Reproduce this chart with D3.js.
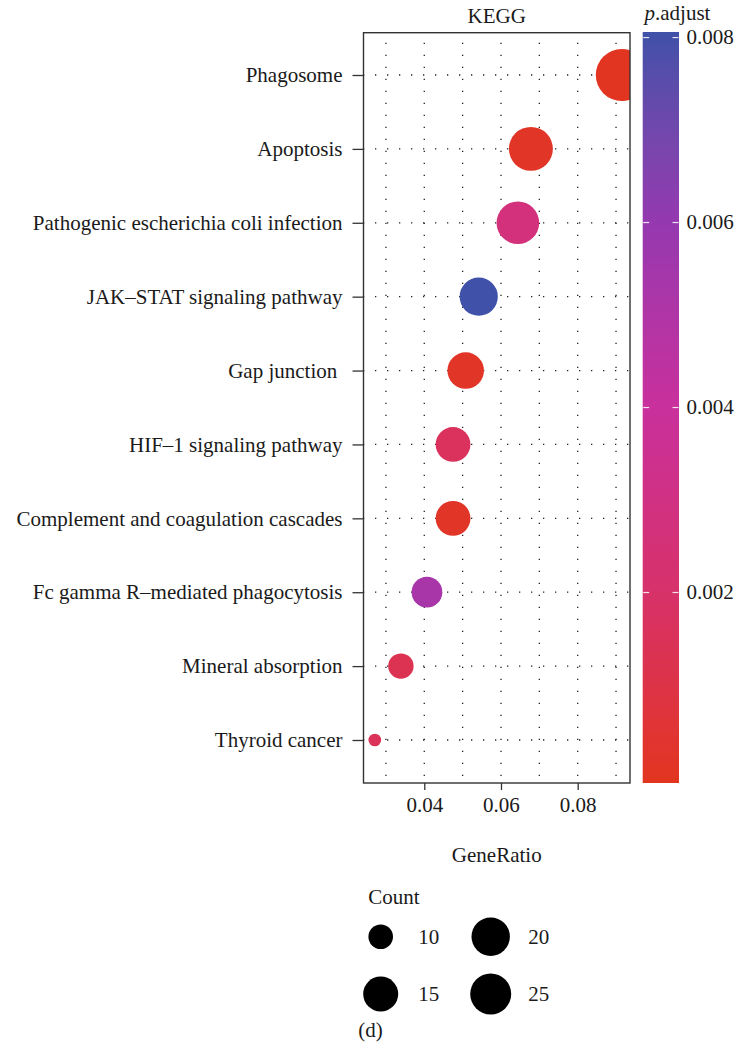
<!DOCTYPE html>
<html>
<head>
<meta charset="utf-8">
<script src="https://cdn.jsdelivr.net/npm/d3@7"></script>
<style>
  html, body { margin: 0; padding: 0; background: #fff; }
  svg { display: block; }
  text { font-family: "Liberation Serif", "DejaVu Serif", serif; fill: #1a1a1a; white-space: pre; }
</style>
</head>
<body>
<svg id="chart" width="735" height="1054"></svg>
<script>
// KEGG enrichment terms, top to bottom
const pathways = [
  "Phagosome",
  "Apoptosis",
  "Pathogenic escherichia coli infection",
  "JAK\u2013STAT signaling pathway",
  "Gap junction ",
  "HIF\u20131 signaling pathway",
  "Complement and coagulation cascades",
  "Fc gamma R\u2013mediated phagocytosis",
  "Mineral absorption",
  "Thyroid cancer"
];
const geneRatio = [0.0915, 0.0678, 0.0644, 0.0542, 0.0508, 0.0475, 0.0475, 0.0407, 0.0339, 0.0271];
const geneCount = [27, 20, 19, 16, 15, 14, 14, 12, 10, 8];
const pAdjust = [0.00005, 0.0002, 0.0027, 0.00806, 0.0002, 0.0016, 0.0002, 0.0053, 0.0013, 0.0015];

const xTicks = [0.04, 0.06, 0.08];
const xMinorTicks = [0.03, 0.05, 0.07, 0.09];
const colorTicks = [0.002, 0.004, 0.006, 0.008];
const legendCounts = [10, 15, 20, 25];

const FS = 21;

const svg = d3.select("#chart");

// panel geometry
const panel = { left: 363.5, right: 630, top: 32.7, bottom: 783 };

const x = d3.scaleLinear().domain([0.02415, 0.09364]).range([panel.left, panel.right]);
const y = d3.scalePoint().domain(pathways).range([75, 740]);

// point size: area scale over the count range
const countExtent = d3.extent(geneCount);
const size = d3.scaleSqrt().domain([0, countExtent[1] - countExtent[0]]).range([6.35, 26]);
const radius = c => size(c - countExtent[0]);

// p.adjust colour ramp (red -> magenta -> blue)
const pMax = d3.max(pAdjust);
const color = d3.scaleLinear()
  .domain([0, 0.002, 0.004, 0.006, pMax])
  .range(["#E2351F", "#D7326A", "#C9309C", "#9538B0", "#3F51A8"])
  .interpolate(d3.interpolateLab);

const data = pathways.map((name, i) => ({
  name, ratio: geneRatio[i], count: geneCount[i], p: pAdjust[i]
}));

// panel background
svg.append("rect")
  .attr("x", panel.left).attr("y", panel.top)
  .attr("width", panel.right - panel.left).attr("height", panel.bottom - panel.top)
  .attr("fill", "#fff");

// dotted grid
const grid = svg.append("g").attr("stroke", "#222").attr("stroke-width", 1.3)
  .attr("stroke-dasharray", "1.3,10.7").attr("stroke-linecap", "butt");
grid.selectAll("line.v").data(xTicks.concat(xMinorTicks)).join("line")
  .attr("class", "v")
  .attr("x1", d => x(d)).attr("x2", d => x(d))
  .attr("y1", panel.top).attr("y2", panel.bottom)
  .attr("stroke-dashoffset", -10);
grid.selectAll("line.h").data(pathways).join("line")
  .attr("class", "h")
  .attr("x1", panel.left).attr("x2", panel.right)
  .attr("y1", d => y(d)).attr("y2", d => y(d))
  .attr("stroke-dashoffset", -11.5);

// clip for points
svg.append("clipPath").attr("id", "panel-clip")
  .append("rect")
  .attr("x", panel.left).attr("y", panel.top)
  .attr("width", panel.right - panel.left).attr("height", panel.bottom - panel.top);

svg.append("g").attr("clip-path", "url(#panel-clip)")
  .selectAll("circle").data(data).join("circle")
  .attr("cx", d => x(d.ratio))
  .attr("cy", d => y(d.name))
  .attr("r", d => radius(d.count))
  .attr("fill", d => color(d.p));

// panel border
svg.append("rect")
  .attr("x", panel.left).attr("y", panel.top)
  .attr("width", panel.right - panel.left).attr("height", panel.bottom - panel.top)
  .attr("fill", "none").attr("stroke", "#333").attr("stroke-width", 1.4);

// y axis
const yAxis = svg.append("g")
  .attr("transform", `translate(${panel.left},0)`)
  .call(d3.axisLeft(y).tickSize(11).tickPadding(10));
yAxis.select(".domain").remove();
yAxis.selectAll(".tick line").attr("stroke", "#333").attr("stroke-width", 1.3);
yAxis.selectAll(".tick text")
  .attr("font-family", "Liberation Serif, serif")
  .attr("font-size", FS).attr("fill", "#1a1a1a").attr("dy", "0.32em");

// x axis
const xAxis = svg.append("g")
  .attr("transform", `translate(0,${panel.bottom})`)
  .call(d3.axisBottom(x).tickValues(xTicks).tickFormat(d3.format(".2f")).tickSize(7).tickPadding(7));
xAxis.select(".domain").remove();
xAxis.selectAll(".tick line").attr("stroke", "#333").attr("stroke-width", 1.3);
xAxis.selectAll(".tick text")
  .attr("font-family", "Liberation Serif, serif")
  .attr("font-size", FS).attr("fill", "#1a1a1a");

// titles
svg.append("text").attr("x", (panel.left + panel.right) / 2).attr("y", 22.5)
  .attr("text-anchor", "middle").attr("font-size", FS).text("KEGG");
svg.append("text").attr("x", (panel.left + panel.right) / 2).attr("y", 862)
  .attr("text-anchor", "middle").attr("font-size", FS).text("GeneRatio");

// colour bar
const bar = { left: 642.7, right: 679, bottom: 783 };
const barY = d3.scaleLinear().domain([0, 0.00806]).range([777.5, 32]);
const grad = svg.append("defs").append("linearGradient")
  .attr("id", "padj-grad").attr("gradientUnits", "userSpaceOnUse")
  .attr("x1", 0).attr("x2", 0).attr("y1", bar.bottom).attr("y2", barY(pMax));
d3.range(0, 1.0001, 0.05).forEach(t => {
  const v = barY.invert(bar.bottom + t * (barY(pMax) - bar.bottom));
  grad.append("stop").attr("offset", t).attr("stop-color", color(Math.max(0, v)));
});
svg.append("rect")
  .attr("x", bar.left).attr("y", barY(pMax))
  .attr("width", bar.right - bar.left).attr("height", bar.bottom - barY(pMax))
  .attr("fill", "url(#padj-grad)");
const cb = svg.append("g");
cb.selectAll("line.l").data(colorTicks).join("line")
  .attr("x1", bar.left + 0.5).attr("x2", bar.left + 6.5)
  .attr("y1", d => barY(d)).attr("y2", d => barY(d))
  .attr("stroke", "#fff").attr("stroke-opacity", 0.85).attr("stroke-width", 1.2);
cb.selectAll("line.r").data(colorTicks).join("line")
  .attr("x1", bar.right - 6.5).attr("x2", bar.right - 0.5)
  .attr("y1", d => barY(d)).attr("y2", d => barY(d))
  .attr("stroke", "#fff").attr("stroke-opacity", 0.85).attr("stroke-width", 1.2);
cb.selectAll("text").data(colorTicks).join("text")
  .attr("x", 686.5).attr("y", d => barY(d)).attr("dy", "0.33em")
  .attr("font-size", FS).text(d => d3.format(".3f")(d));

const pTitle = svg.append("text").attr("x", 644.5).attr("y", 20).attr("font-size", FS);
pTitle.append("tspan").attr("font-style", "italic").text("p");
pTitle.append("tspan").text(".adjust");

// size legend
svg.append("text").attr("x", 368.3).attr("y", 904).attr("font-size", FS).text("Count");
const legendRadius = d3.scaleLinear().domain([10, 15, 20, 25]).range([12.3, 17.5, 19.2, 20.5]);
const legendItems = legendCounts.map((c, i) => ({ c, col: Math.floor(i / 2), row: i % 2 }));
const lg = svg.append("g").selectAll("g").data(legendItems).join("g")
  .attr("transform", d => `translate(${380.7 + d.col * 110},${936.7 + d.row * 57.3})`);
lg.append("circle").attr("r", d => legendRadius(d.c)).attr("fill", "#000");
lg.append("text").attr("x", 37.5).attr("dy", "0.33em").attr("font-size", FS).text(d => d.c);

svg.append("text").attr("x", 358.3).attr("y", 1037).attr("font-size", FS).text("(d)");
</script>
</body>
</html>
